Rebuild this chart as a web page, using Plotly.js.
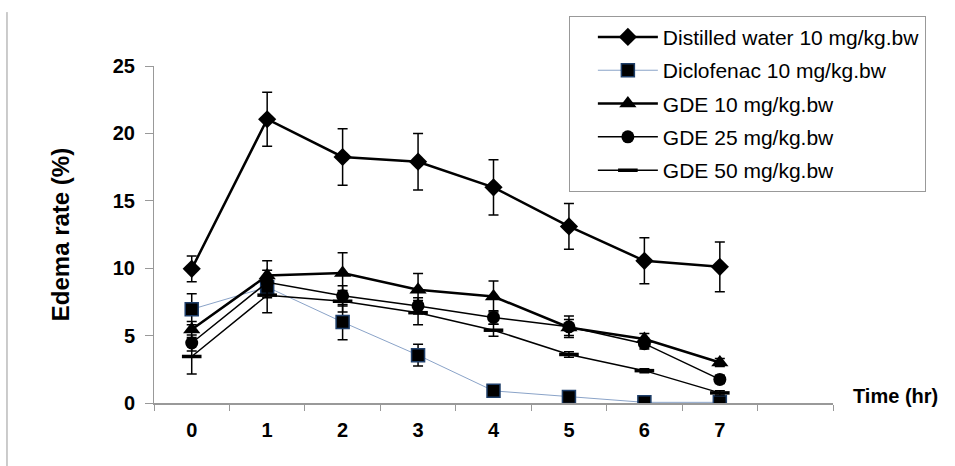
<!DOCTYPE html>
<html><head><meta charset="utf-8">
<script src="https://cdn.plot.ly/plotly-3.0.1.min.js"></script>
<style>body{margin:0;padding:0;background:#fff}#chart{width:955px;height:466px}</style>
</head><body><div id="chart"></div>
<script>
const time = [0, 1, 2, 3, 4, 5, 6, 7];
const tickLabels = ['0','1','2','3','4','5','6','7'];
const seriesNames = ['Distilled water 10 mg/kg.bw','Diclofenac 10 mg/kg.bw','GDE 10 mg/kg.bw','GDE 25 mg/kg.bw','GDE 50 mg/kg.bw'];
const water     = [9.95, 21.05, 18.25, 17.9, 16.0, 13.1, 10.55, 10.1];
const waterErr  = [0.95, 2.0, 2.1, 2.1, 2.05, 1.7, 1.7, 1.85];
const diclo     = [6.95, 8.6, 6.0, 3.55, 0.9, 0.45, 0.05, 0.05];
const dicloErr  = [1.15, 0.8, 1.3, 0.8, 0.2, 0.1, 0.05, 0.05];
const gde10     = [5.45, 9.45, 9.65, 8.4, 7.9, 5.6, 4.75, 3.0];
const gde10Err  = [0.6, 1.1, 1.5, 1.2, 1.15, 0.6, 0.4, 0.3];
const gde25     = [4.45, 8.95, 7.95, 7.2, 6.35, 5.65, 4.4, 1.75];
const gde25Err  = [0.6, 0.9, 0.75, 0.6, 0.5, 0.8, 0.4, 0.3];
const gde50     = [3.45, 8.0, 7.55, 6.7, 5.4, 3.6, 2.4, 0.75];
const gde50Err  = [1.3, 1.3, 0.8, 0.9, 0.45, 0.2, 0.15, 0.15];

function err(a){return {type:'data', array:a, visible:true, color:'#000', thickness:1.5, width:5};}

const traces = [
  {x: time, y: water, name: seriesNames[0], legendgroup:'a', mode:'lines+markers',
   line:{color:'#000', width:2.5}, marker:{symbol:'diamond', size:14, color:'#000'}, error_y: err(waterErr)},
  {x: time, y: diclo, name: seriesNames[1], legendgroup:'b', mode:'lines+markers',
   line:{color:'#8aa3c8', width:1}, marker:{symbol:'square', size:13, color:'#000', line:{color:'#1f3f6a', width:1.5}}, error_y: err(dicloErr)},
  {x: time, y: gde10, name: seriesNames[2], legendgroup:'c', mode:'lines+markers',
   line:{color:'#000', width:2.5}, marker:{symbol:'triangle-up', size:15, color:'#000'}, error_y: err(gde10Err)},
  {x: time, y: gde25, name: seriesNames[3], legendgroup:'d', mode:'lines+markers',
   line:{color:'#000', width:1.5}, marker:{symbol:'circle', size:13, color:'#000'}, error_y: err(gde25Err)},
  {x: time, y: gde50, name: seriesNames[4], legendgroup:'e', mode:'lines+markers',
   line:{color:'#000', width:1.5}, marker:{symbol:'line-ew', size:14, color:'#000', line:{color:'#000', width:3.5}}, error_y: err(gde50Err)}
];

const layout = {
  width: 955, height: 466,
  margin: {l:154, r:122, t:66, b:63},
  paper_bgcolor:'#fff', plot_bgcolor:'#fff',
  font: {family:'Liberation Sans, Arial, sans-serif', color:'#000'},
  showlegend: true,
  legend: {x:0.611, y:1.149, xanchor:'left', yanchor:'top', bgcolor:'#fff', bordercolor:'#999', borderwidth:1,
           font:{size:21, color:'#000'}, indentation:23, itemwidth:60, tracegroupgap:3},
  xaxis: {range:[-0.5, 8.5], tickmode:'array', tickvals: time, ticktext: tickLabels, ticks:'',
          showgrid:false, zeroline:false, showline:true, linecolor:'#999', linewidth:1.5, ticklabelstandoff:8,
          tickfont:{size:20, weight:'bold'},
          minor:{tickmode:'linear', tick0:-0.5, dtick:1, ticks:'outside', ticklen:6, tickcolor:'#999', tickwidth:1, showgrid:false}},
  yaxis: {range:[0, 25], tickmode:'array', tickvals:[0,5,10,15,20,25], ticks:'outside', ticklen:8, tickcolor:'#999', tickwidth:1,
          showgrid:false, zeroline:false, showline:true, linecolor:'#999', linewidth:1, ticklabelstandoff:6,
          tickfont:{size:20, weight:'bold'},
          title:{text:'Edema rate (%)', font:{size:24, weight:'bold'}, standoff:36}},
  annotations: [{text:'Time (hr)', xref:'paper', yref:'paper', x:1.027, y:0.02, xanchor:'left', yanchor:'middle',
                 showarrow:false, font:{size:20, weight:'bold'}}],
  shapes: [{type:'line', xref:'paper', yref:'paper', x0:-0.2165, x1:-0.2165, y0:1.16, y1:-0.19, line:{color:'#999', width:1}}]
};
Plotly.newPlot('chart', traces, layout, {displayModeBar:false, staticPlot:true});
</script></body></html>
